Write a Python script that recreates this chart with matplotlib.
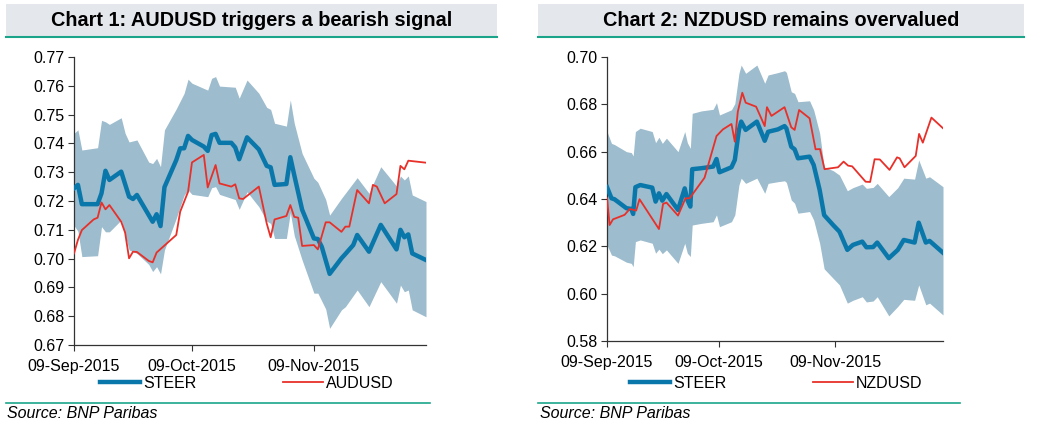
import numpy as np
import pandas as pd
import matplotlib
matplotlib.use('Agg')
import matplotlib.pyplot as plt
import matplotlib.dates as mdates
from matplotlib.patches import Rectangle
from matplotlib.lines import Line2D

plt.rcParams['font.family'] = ['Liberation Sans', 'DejaVu Sans']

START = pd.Timestamp('2015-09-09')
TICK_DATES = ['2015-09-09', '2015-10-09', '2015-11-09']

BAND = '#9dbccd'
STEER_C = '#0a77ab'
SPOT_C = '#e8302a'
TEAL = '#1aa58a'
BAR_BG = '#e4e7ec'

# ---- Chart 1: AUDUSD (days counted from 09-Sep-2015) ----
aud_band_days = [0, 1, 2, 6, 7, 8, 9, 12, 13, 14, 16, 19, 20, 21, 22, 23, 26, 28, 29, 30,
                 34, 35, 36, 37, 41, 42, 44, 47, 49, 50, 51, 54, 55, 56, 58, 61, 62, 64,
                 65, 68, 69, 72, 75, 78, 82, 83, 84, 85, 86, 89.5]
aud_upper = [0.7435, 0.7447, 0.7377, 0.7385, 0.7480, 0.7475, 0.7466, 0.7489, 0.7435, 0.7405,
             0.7412, 0.7335, 0.7330, 0.7348, 0.7319, 0.7447, 0.7520, 0.7574, 0.7623, 0.7609,
             0.7585, 0.7626, 0.7632, 0.7599, 0.7595, 0.7557, 0.7620, 0.7574, 0.7525, 0.7518,
             0.7470, 0.7460, 0.7551, 0.7470, 0.7365, 0.7279, 0.7265, 0.7205, 0.7151, 0.7209,
             0.7227, 0.7281, 0.7227, 0.7319, 0.7252, 0.7287, 0.7273, 0.7287, 0.7221, 0.7198]
aud_lower = [0.7115, 0.7095, 0.7007, 0.7010, 0.7111, 0.7093, 0.7093, 0.7134, 0.7082, 0.7030,
             0.7018, 0.6980, 0.6955, 0.6972, 0.6947, 0.7030, 0.7140, 0.7220, 0.7238, 0.7223,
             0.7215, 0.7246, 0.7250, 0.7223, 0.7205, 0.7171, 0.7232, 0.7180, 0.7130, 0.7122,
             0.7070, 0.7070, 0.7160, 0.7080, 0.6995, 0.6880, 0.6880, 0.6825, 0.6758, 0.6822,
             0.6833, 0.6891, 0.6833, 0.6920, 0.6845, 0.6908, 0.6885, 0.6891, 0.6822, 0.6798]

aud_steer_days = [0, 1, 2, 6, 7, 8, 9, 12, 14, 15, 16, 20, 21, 22, 23, 26, 27, 28, 29, 30,
                  33, 34, 35, 36, 37, 40, 41, 42, 44, 47, 49, 50, 51, 54, 55, 56, 58, 61,
                  62, 63, 65, 68, 69, 71, 72, 75, 78, 82, 83, 84, 85, 86, 89.5]
aud_steer = [0.7244, 0.7256, 0.7189, 0.7189, 0.7227, 0.7305, 0.7273, 0.7302, 0.7215, 0.7207,
             0.7221, 0.7128, 0.7154, 0.7113, 0.7248, 0.7342, 0.7383, 0.7383, 0.7426, 0.7412,
             0.7389, 0.7374, 0.7429, 0.7433, 0.7402, 0.7402, 0.7386, 0.7345, 0.7421, 0.7379,
             0.7322, 0.7317, 0.7256, 0.7259, 0.7352, 0.7290, 0.7170, 0.7070, 0.7068, 0.7041,
             0.6947, 0.7001, 0.7016, 0.7047, 0.7082, 0.7024, 0.7117, 0.7032, 0.7100, 0.7074,
             0.7084, 0.7018, 0.6995]

aud_spot_days = [0, 1, 2, 5, 6, 7, 8, 9, 12, 13, 14, 15, 16, 19, 20, 21, 26, 27, 29, 30,
                 33, 34, 36, 37, 40, 41, 42, 43, 47, 49, 50, 51, 54, 55, 56, 57, 58, 61,
                 62, 64, 65, 68, 69, 70, 72, 75, 76, 77, 79, 82, 83, 84, 85, 89.5]
aud_spot = [0.7018, 0.7065, 0.7099, 0.7136, 0.7142, 0.7195, 0.7171, 0.7186, 0.7128, 0.7090,
            0.7001, 0.7024, 0.7023, 0.6992, 0.6987, 0.7021, 0.7082, 0.7163, 0.7232, 0.7334,
            0.7360, 0.7247, 0.7325, 0.7261, 0.7250, 0.7258, 0.7209, 0.7207, 0.7250, 0.7122,
            0.7074, 0.7136, 0.7148, 0.7186, 0.7145, 0.7142, 0.7044, 0.7047, 0.7032, 0.7126,
            0.7126, 0.7093, 0.7111, 0.7111, 0.7238, 0.7192, 0.7256, 0.7250, 0.7192, 0.7224,
            0.7322, 0.7310, 0.7340, 0.7333]

# ---- Chart 2: NZDUSD ----
nzd_days = [0, 1.2, 2, 5.2, 6.5, 7, 7.6, 8.9, 12.1, 13, 13.9, 14.8, 15.9, 19, 20.8, 21.5,
            22.3, 22.8, 25.2, 28.4, 29.3, 30.1, 33.3, 34.2, 35.3, 35.9, 37.1, 40.1, 42.2,
            43.1, 45.7, 47.5, 48, 49.3, 50.2, 51.1, 54.2, 55.3, 56.9, 58.1, 60.5, 62.2,
            64.3, 65.8, 68.3, 69.4, 71.2, 72.3, 75.4, 77.8, 79.4, 82.3, 83.4, 85.3, 86.3, 89.9]
nzd_steer = [0.6450, 0.6403, 0.6399, 0.6361, 0.6358, 0.6337, 0.6450, 0.6459, 0.6448, 0.6389,
             0.6424, 0.6393, 0.6421, 0.6354, 0.6445, 0.6396, 0.6368, 0.6526, 0.6530, 0.6537,
             0.6569, 0.6513, 0.6534, 0.6565, 0.6692, 0.6727, 0.6692, 0.6727, 0.6646, 0.6684,
             0.6694, 0.6708, 0.6698, 0.6621, 0.6610, 0.6572, 0.6579, 0.6544, 0.6438, 0.6332,
             0.6290, 0.6262, 0.6185, 0.6206, 0.6220, 0.6196, 0.6197, 0.6216, 0.6150, 0.6185,
             0.6227, 0.6216, 0.6300, 0.6216, 0.6223, 0.6173]
nzd_upper = [0.6685, 0.6635, 0.6630, 0.6600, 0.6596, 0.6582, 0.6685, 0.6699, 0.6685, 0.6638,
             0.6661, 0.6635, 0.6657, 0.6600, 0.6685, 0.6638, 0.6614, 0.6762, 0.6772, 0.6779,
             0.6807, 0.6755, 0.6777, 0.6803, 0.6931, 0.6966, 0.6931, 0.6966, 0.6889, 0.6924,
             0.6934, 0.6942, 0.6935, 0.6853, 0.6846, 0.6811, 0.6815, 0.6776, 0.6678, 0.6535,
             0.6520, 0.6501, 0.6435, 0.6448, 0.6463, 0.6445, 0.6449, 0.6466, 0.6410, 0.6448,
             0.6488, 0.6484, 0.6565, 0.6488, 0.6494, 0.6452]
nzd_lower = [0.6206, 0.6163, 0.6160, 0.6133, 0.6128, 0.6114, 0.6220, 0.6227, 0.6213, 0.6171,
             0.6188, 0.6169, 0.6185, 0.6128, 0.6213, 0.6171, 0.6157, 0.6290, 0.6297, 0.6304,
             0.6333, 0.6283, 0.6304, 0.6333, 0.6459, 0.6488, 0.6466, 0.6488, 0.6424, 0.6466,
             0.6473, 0.6477, 0.6470, 0.6396, 0.6382, 0.6340, 0.6347, 0.6311, 0.6213, 0.6105,
             0.6065, 0.6037, 0.5960, 0.5972, 0.5987, 0.5965, 0.5969, 0.5987, 0.5906, 0.5946,
             0.5976, 0.5972, 0.6037, 0.5953, 0.5960, 0.5910]

nzd_spot_days = [0, 0.7, 1.6, 4.7, 6.1, 7.8, 8.7, 13.9, 15, 15.9, 19, 21, 22.1, 26.1, 29.3,
                 31, 33.3, 34.2, 35, 36.2, 37.1, 39.9, 42.2, 42.8, 44, 45.7, 47.5, 49.3, 50.2,
                 51.4, 54.2, 55.8, 57, 58.2, 61.8, 63.3, 64.5, 65.6, 69.2, 70.4, 71.6, 73,
                 75.6, 77.6, 78.3, 79.6, 82.6, 83.5, 84.5, 86.8, 89.9]
nzd_spot = [0.6403, 0.6290, 0.6314, 0.6333, 0.6358, 0.6351, 0.6399, 0.6273, 0.6379, 0.6385,
            0.6330, 0.6403, 0.6403, 0.6490, 0.6666, 0.6694, 0.6717, 0.6642, 0.6769, 0.6849,
            0.6807, 0.6790, 0.6708, 0.6788, 0.6751, 0.6769, 0.6788, 0.6703, 0.6692, 0.6776,
            0.6741, 0.6610, 0.6611, 0.6526, 0.6534, 0.6558, 0.6541, 0.6538, 0.6473, 0.6472,
            0.6568, 0.6567, 0.6523, 0.6576, 0.6572, 0.6534, 0.6582, 0.6675, 0.6638, 0.6744,
            0.6699]


def to_dates(days):
    return START + pd.to_timedelta(days, unit='D')


W, H = 1050, 428
fig = plt.figure(figsize=(W / 100, H / 100), dpi=100)


def px_rect(x0, y0, x1, y1):
    # pixel box (top-left origin) -> figure fraction [l, b, w, h]
    return [x0 / W, 1 - y1 / H, (x1 - x0) / W, (y1 - y0) / H]


def panel(box, title, title_box, src_x, src_line, legend_x, band_days, upper, lower,
          steer_days, steer, spot_days, spot, spot_name, yticks, end_day):
    ax = fig.add_axes(px_rect(*box))
    ax.fill_between(to_dates(band_days), lower, upper, color=BAND, lw=0, zorder=1)
    ax.plot(to_dates(steer_days), steer, color=STEER_C, lw=3.2, label='STEER',
            solid_joinstyle='round', zorder=3)
    ax.plot(to_dates(spot_days), spot, color=SPOT_C, lw=1.3, label=spot_name, zorder=4)

    ax.set_xlim(START, START + pd.Timedelta(days=end_day))
    ax.set_ylim(yticks[0], yticks[-1])
    ax.set_yticks(yticks)
    ax.yaxis.set_major_formatter(plt.FormatStrFormatter('%.2f'))
    ax.set_xticks(pd.to_datetime(TICK_DATES))
    ax.xaxis.set_major_formatter(mdates.DateFormatter('%d-%b-%Y'))
    ax.tick_params(labelsize=11.5, length=4, width=0.8, color='#333333', pad=3)
    ax.tick_params(axis='x', pad=6)
    for s in ('top', 'right'):
        ax.spines[s].set_visible(False)
    for s in ('left', 'bottom'):
        ax.spines[s].set_color('#333333')
        ax.spines[s].set_linewidth(0.9)

    ax.legend(loc='center left', bbox_to_anchor=(legend_x / W, 1 - 383 / H),
              bbox_transform=fig.transFigure, ncol=2, frameon=False,
              fontsize=11.5, handlelength=2.5, handletextpad=0.2, columnspacing=5.4,
              borderaxespad=0, borderpad=0)

    # title bar
    x0, y0, x1, y1 = title_box
    fig.add_artist(Rectangle((x0 / W, 1 - y1 / H), (x1 - x0) / W, (y1 - y0) / H,
                             transform=fig.transFigure, facecolor=BAR_BG, edgecolor='none'))
    fig.add_artist(Line2D([x0 / W, x1 / W], [1 - y1 / H] * 2, transform=fig.transFigure,
                          color=TEAL, lw=1.5))
    fig.text((x0 + x1) / 2 / W, 1 - (y0 + y1) / 2 / H, title, ha='center', va='center',
             fontsize=14.3, fontweight='bold')

    # source
    lx0, lx1, ly = src_line
    fig.add_artist(Line2D([lx0 / W, lx1 / W], [1 - ly / H] * 2, transform=fig.transFigure,
                          color=TEAL, lw=1.2))
    fig.text(src_x / W, 1 - 414 / H, 'Source: BNP Paribas', ha='left', va='center',
             fontsize=11.5, style='italic')
    return ax


panel((74, 57, 426, 345), 'Chart 1: AUDUSD triggers a bearish signal', (6, 4, 497, 37),
      7, (6, 430, 403), 100, aud_band_days, aud_upper, aud_lower, aud_steer_days, aud_steer,
      aud_spot_days, aud_spot, 'AUDUSD', np.round(np.arange(0.67, 0.7701, 0.01), 2), 89.5)

panel((607, 57, 943, 341), 'Chart 2: NZDUSD remains overvalued', (538, 4, 1024, 37),
      540, (538, 960, 403), 630, nzd_days, nzd_upper, nzd_lower, nzd_days, nzd_steer,
      nzd_spot_days, nzd_spot, 'NZDUSD', np.round(np.arange(0.58, 0.7001, 0.02), 2), 89.9)

fig.savefig('out.png', dpi=100)
